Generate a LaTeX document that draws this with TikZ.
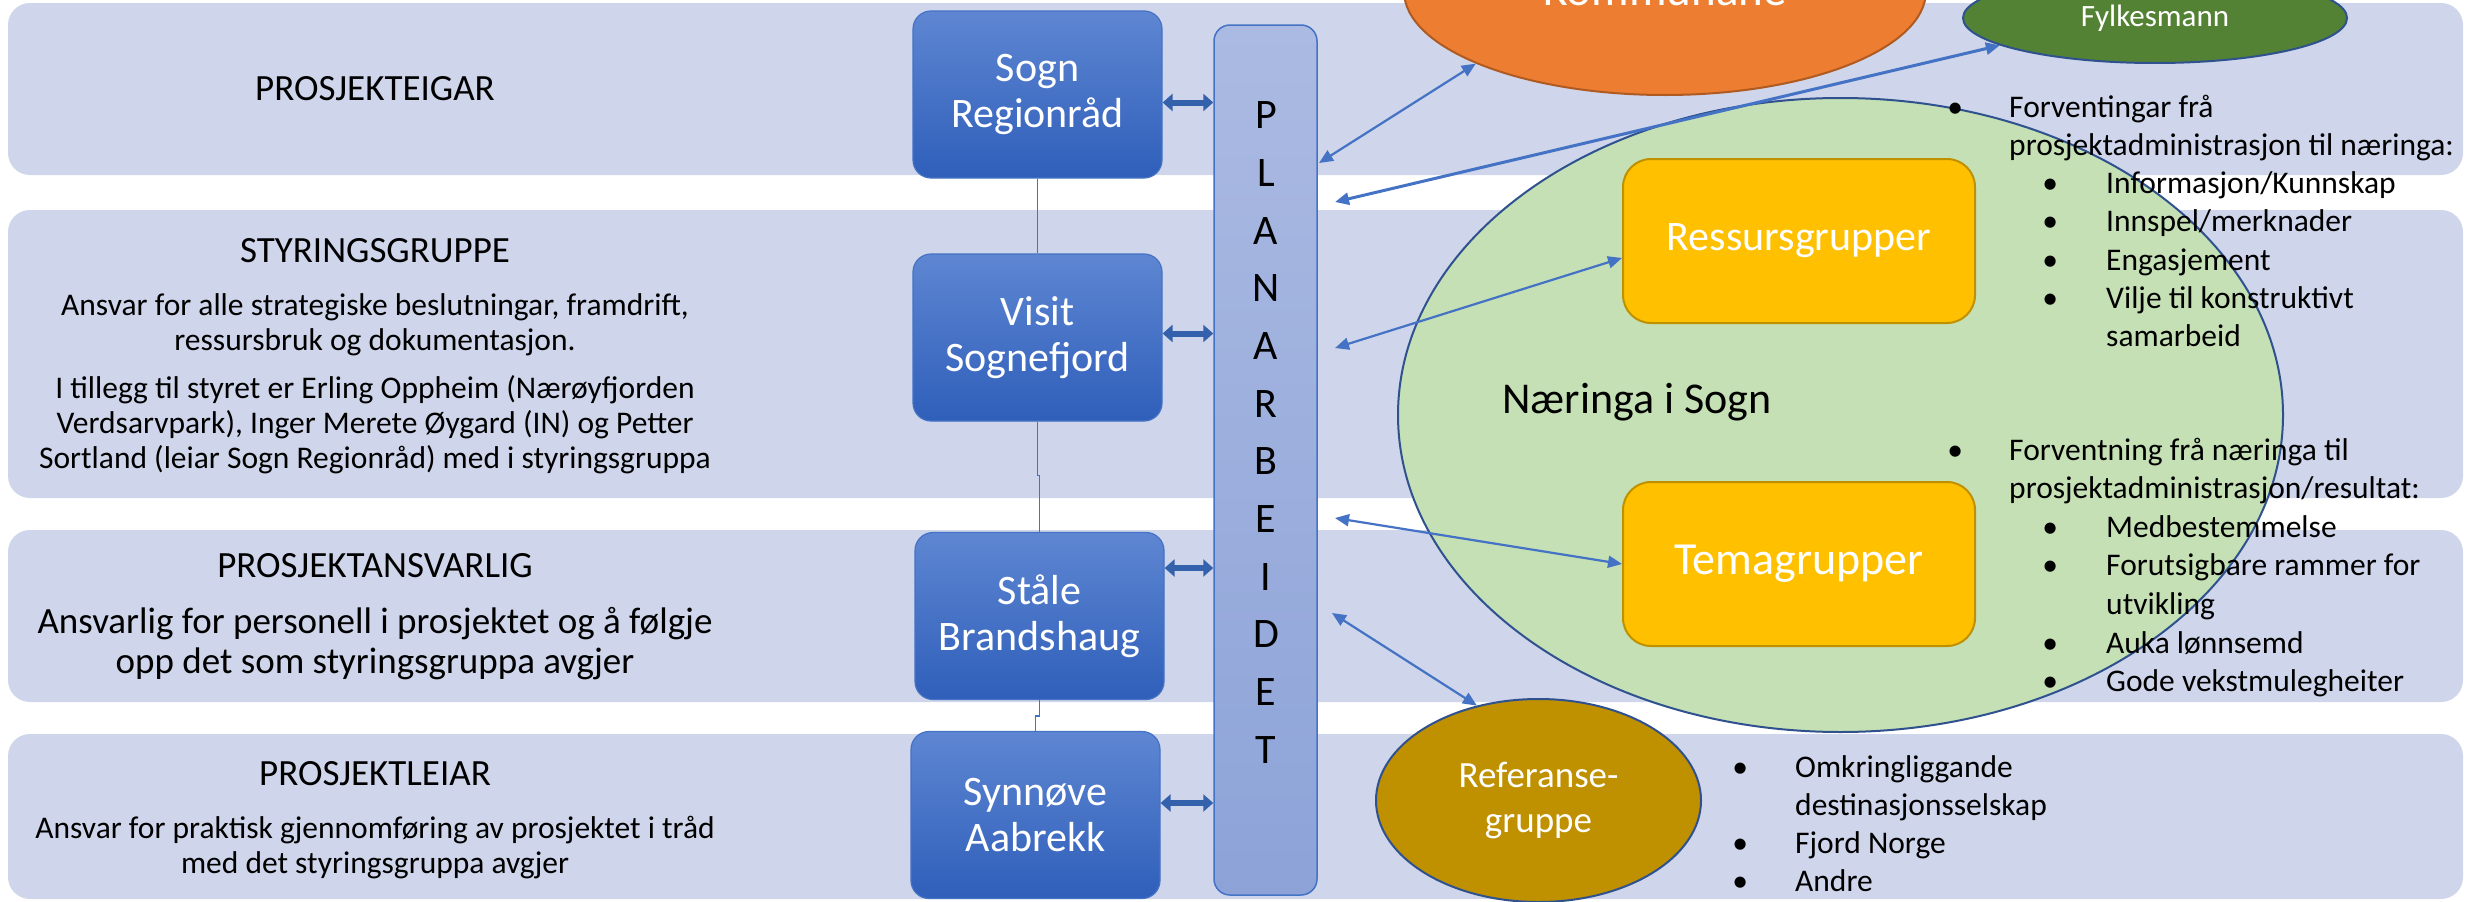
\documentclass[tikz,border=0pt]{standalone}
\usepackage{fontspec}
\setmainfont{Carlito}
\usetikzlibrary{arrows.meta,shapes.geometric}

\definecolor{bandc}{HTML}{CFD5EA}
\definecolor{boxtop}{HTML}{5E86D2}
\definecolor{boxbot}{HTML}{2F5FBA}
\definecolor{boxline}{HTML}{4472C4}
\definecolor{bartop}{HTML}{ABBAE2}
\definecolor{barbot}{HTML}{8DA3D8}
\definecolor{dblc}{HTML}{3461AB}
\definecolor{linkc}{HTML}{4472C4}
\definecolor{orangec}{HTML}{ED7D31}
\definecolor{orangeline}{HTML}{AE5A21}
\definecolor{greenc}{HTML}{548235}
\definecolor{ringline}{HTML}{2F528F}
\definecolor{naerc}{HTML}{C5E0B4}
\definecolor{gold}{HTML}{FFC000}
\definecolor{goldline}{HTML}{BF9000}

\tikzset{
  band/.style={fill=bandc, rounded corners=22pt},
  person/.style={draw=boxline, line width=1.2pt, rounded corners=18pt, top color=boxtop, bottom color=boxbot,
    text=white, minimum width=249pt, minimum height=167pt, inner sep=0pt, align=center,
    font=\fontsize{42}{46}\selectfont},
  group/.style={draw=goldline, line width=2pt, fill=gold, rounded corners=28pt, text=white,
    minimum width=352pt, minimum height=164pt, inner sep=0pt},
  ring/.style={ellipse, draw=ringline, line width=2pt, inner sep=0pt, text=white, align=center},
  tie/.style={draw=linkc, line width=1.4pt},
  dbl/.style={draw=dblc, line width=6pt, >={Triangle[length=10pt,width=17pt]}, <->},
  link/.style={draw=linkc, line width=2.2pt, >={Triangle[length=14pt,width=12pt]}, <->},
  head/.style={anchor=base, inner sep=0pt, font=\fontsize{37}{44}\selectfont},
  desc/.style={anchor=base, inner sep=0pt, font=\fontsize{31.5}{35}\selectfont},
  list/.style={anchor=base west, inner sep=0pt, font=\fontsize{31.5}{38.3}\selectfont},
}

\begin{document}
\begin{tikzpicture}[x=1pt, y=-1pt]
\useasboundingbox (0,0) rectangle (2476,902);
\clip (0,0) rectangle (2476,902);

% bands
\fill[band] (8,3) rectangle (2463,175);
\fill[band] (8,210) rectangle (2463,498);
\fill[band] (8,530) rectangle (2463,702);
\fill[band] (8,734) rectangle (2463,899);

% left column
\node[head] (eigar) at (375,100) {PROSJEKTEIGAR};
\node[head] (styr) at (375,262) {STYRINGSGRUPPE};
\node[desc] (styrtxt) at (375,315) {\begin{tabular}[t]{@{}c@{}}
  Ansvar for alle strategiske beslutningar, framdrift,\\
  ressursbruk og dokumentasjon.\\[13pt]
  I tillegg til styret er Erling Oppheim (Nærøyfjorden\\
  Verdsarvpark), Inger Merete Øygard (IN) og Petter\\
  Sortland (leiar Sogn Regionråd) med i styringsgruppa\end{tabular}};
\node[head] (ansv) at (375,577) {PROSJEKTANSVARLIG};
\node[desc, font=\fontsize{37}{40}\selectfont] (ansvtxt) at (375,633) {\begin{tabular}[t]{@{}c@{}}
  Ansvarlig for personell i prosjektet og å følgje\\
  opp det som styringsgruppa avgjer\end{tabular}};
\node[head] (leiar) at (375,785) {PROSJEKTLEIAR};
\node[desc] (leiartxt) at (375,838) {\begin{tabular}[t]{@{}c@{}}
  Ansvar for praktisk gjennomføring av prosjektet i tråd\\
  med det styringsgruppa avgjer\end{tabular}};

% people
\node[person] (sogn) at (1037.5,94.5) {Sogn\\Regionråd};
\node[person] (visit) at (1037.5,337.5) {Visit\\Sognefjord};
\node[person] (stale) at (1039.5,616) {Ståle\\Brandshaug};
\node[person] (synn) at (1035.5,815) {Synnøve\\Aabrekk};
\draw[tie] (sogn.south) -- (visit.north);
\draw[tie] (visit.south) -- ++(0,54) -| (stale.north);
\draw[tie] (stale.south) -- ++(0,16) -| (synn.north);

% planarbeidet
\node[draw=linkc, line width=1.5pt, rounded corners=16pt, top color=bartop, bottom color=barbot,
  minimum width=103pt, minimum height=870pt, inner sep=0pt] (plan) at (1265.5,460) {};
\node[align=center, inner sep=0pt, font=\fontsize{42}{57.7}\selectfont] (planord) at (1266,432.5)
  {P\\L\\A\\N\\A\\R\\B\\E\\I\\D\\E\\T};
\draw[dbl] ([yshift=-8pt]sogn.east) -- ([yshift=-8pt]sogn.east -| plan.west);
\draw[dbl] ([yshift=4pt]visit.east) -- ([yshift=4pt]visit.east -| plan.west);
\draw[dbl] ([yshift=48pt]stale.east) -- ([yshift=48pt]stale.east -| plan.west);
\draw[dbl] ([yshift=12pt]synn.east) -- ([yshift=12pt]synn.east -| plan.west);

% partners
\node[ring, draw=orangeline, fill=orangec, minimum width=522pt, minimum height=208pt,
  font=\fontsize{47}{52}\selectfont] (komm) at (1665,-9) {Kommunane};
\node[ring, fill=greenc, minimum width=384pt, minimum height=90pt,
  font=\fontsize{31}{36}\selectfont] (fylk) at (2155,18) {Fylkesmann};
\node[ring, fill=naerc, minimum width=885pt, minimum height=634pt] (naer) at (1840.5,415) {};
\node[anchor=base, inner sep=0pt, font=\fontsize{44}{50}\selectfont] (naertxt) at (1637,413) {Næringa i Sogn};
\node[group, font=\fontsize{42}{46}\selectfont] (ress) at (1799,241) {Ressursgrupper};
\node[group, font=\fontsize{46}{50}\selectfont] (tema) at (1799,564) {Temagrupper};
\node[ring, fill=goldline, minimum width=325pt, minimum height=203pt,
  font=\fontsize{37}{45}\selectfont] (ref) at (1538.5,800.5) {Referanse-\\gruppe};

% links to planarbeidet
\coordinate (pk) at (1319,163);
\coordinate (pf) at (1335,202);
\coordinate (pr) at (1335,348);
\coordinate (pt) at (1335,518);
\coordinate (pref) at (1332,613);
\draw[link] (pk) -- (komm.201);
\draw[link, line width=3pt] (pf) -- (fylk.190);
\draw[link] (pr) -- ([yshift=-17pt]ress.west);
\draw[link] (pt) -- (tema.west);
\draw[link] (pref) -- (ref.123);

% expectations
\node[list] (forvent) at (1955,117) {\begin{tabular}[t]{@{}l@{}}
  \makebox[54pt][l]{\makebox[0pt]{•}}Forventingar frå\\
  \hspace{54pt}prosjektadministrasjon til næringa:\\
  \hspace{95pt}\makebox[56pt][l]{\makebox[0pt]{•}}Informasjon/Kunnskap\\
  \hspace{95pt}\makebox[56pt][l]{\makebox[0pt]{•}}Innspel/merknader\\
  \hspace{95pt}\makebox[56pt][l]{\makebox[0pt]{•}}Engasjement\\
  \hspace{95pt}\makebox[56pt][l]{\makebox[0pt]{•}}Vilje til konstruktivt\\
  \hspace{151pt}samarbeid\end{tabular}};
\node[list, font=\fontsize{31.5}{38.6}\selectfont] (forvnaer) at (1955,460) {\begin{tabular}[t]{@{}l@{}}
  \makebox[54pt][l]{\makebox[0pt]{•}}Forventning frå næringa til\\
  \hspace{54pt}prosjektadministrasjon/resultat:\\
  \hspace{95pt}\makebox[56pt][l]{\makebox[0pt]{•}}Medbestemmelse\\
  \hspace{95pt}\makebox[56pt][l]{\makebox[0pt]{•}}Forutsigbare rammer for\\
  \hspace{151pt}utvikling\\
  \hspace{95pt}\makebox[56pt][l]{\makebox[0pt]{•}}Auka lønnsemd\\
  \hspace{95pt}\makebox[56pt][l]{\makebox[0pt]{•}}Gode vekstmulegheiter\end{tabular}};
\node[list, font=\fontsize{31.5}{38}\selectfont] (reflist) at (1740,777) {\begin{tabular}[t]{@{}l@{}}
  \makebox[55pt][l]{\makebox[0pt]{•}}Omkringliggande\\
  \hspace{55pt}destinasjonsselskap\\
  \makebox[55pt][l]{\makebox[0pt]{•}}Fjord Norge\\
  \makebox[55pt][l]{\makebox[0pt]{•}}Andre\end{tabular}};
\end{tikzpicture}
\end{document}
